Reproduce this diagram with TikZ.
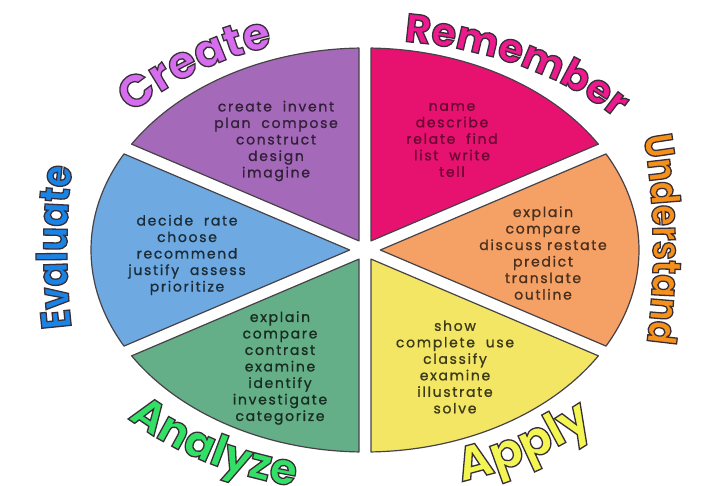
\documentclass[tikz,border=0pt]{standalone}
\usepackage{fontspec}
\setmainfont{Poppins}
\newfontfamily\lblfont{Poppins}
\newfontfamily\lblnarrow{Poppins}[FakeStretch=0.85]
\newfontfamily\bodyfont{Poppins}[LetterSpace=12, FakeBold=1]
\usetikzlibrary{decorations.text,calc}
\definecolor{cRem}{RGB}{231,18,112}
\definecolor{cUnd}{RGB}{245,160,100}
\definecolor{cApp}{RGB}{243,230,100}
\definecolor{cAna}{RGB}{100,175,135}
\definecolor{cEva}{RGB}{110,170,225}
\definecolor{cCre}{RGB}{165,105,185}
\definecolor{edge}{RGB}{70,66,72}
\definecolor{lCre}{RGB}{214,108,238}
\definecolor{lRem}{RGB}{236,26,140}
\definecolor{lUnd}{RGB}{245,144,26}
\definecolor{lApp}{RGB}{242,245,82}
\definecolor{lAna}{RGB}{51,224,102}
\definecolor{lEva}{RGB}{26,132,230}
\newcommand\outl{\special{pdf:literal direct 0.22 0.18 0.22 RG 1.3 w 2 Tr}}
\newcommand\notr{\special{pdf:literal direct 0 Tr}}
\newcommand\fCre{\lblfont\bfseries\fontsize{45}{45}\selectfont\color{lCre}\outl}
\newcommand\fRem{\lblfont\bfseries\fontsize{40}{40}\selectfont\color{lRem}\outl}
\newcommand\fUnd{\lblnarrow\bfseries\fontsize{40}{40}\selectfont\color{lUnd}\outl}
\newcommand\fEva{\lblnarrow\bfseries\fontsize{42}{42}\selectfont\color{lEva}\outl}
\newcommand\fApp{\lblfont\bfseries\fontsize{48}{48}\selectfont\color{lApp}\outl}
\newcommand\fAna{\lblfont\bfseries\fontsize{44}{44}\selectfont\color{lAna}\outl}
\begin{document}
\begin{tikzpicture}[x=1pt,y=1pt,
  sector/.style={fill=#1, draw=edge, line width=1.2pt, line join=round},
  body/.style={font=\notr\bodyfont\fontsize{14}{16.5}\selectfont, align=center, inner sep=0pt}]
\useasboundingbox (0,0) rectangle (706,485);
\fill[white] (0,0) rectangle (706,485);
\coordinate (C) at (365,235);
% sectors
\path[sector=cRem] ($(C)+(6,9.07)$) -- ($(C)+({274*cos(31.6)},{202*sin(31.6)})$)
  arc[start angle=31.6, end angle=88.745, x radius=274pt, y radius=202pt] -- cycle;
\path[sector=cCre] ($(C)+(-6,9.07)$) -- ($(C)+({274*cos(91.255)},{202*sin(91.255)})$)
  arc[start angle=91.255, end angle=148.4, x radius=274pt, y radius=202pt] -- cycle;
\path[sector=cEva] ($(C)+(-15.32,0)$) -- ($(C)+({274*cos(151.6)},{202*sin(151.6)})$)
  arc[start angle=151.6, end angle=208.4, x radius=274pt, y radius=202pt] -- cycle;
\path[sector=cAna] ($(C)+(-6,-9.07)$) -- ($(C)+({274*cos(211.6)},{202*sin(211.6)})$)
  arc[start angle=211.6, end angle=268.745, x radius=274pt, y radius=202pt] -- cycle;
\path[sector=cApp] ($(C)+(6,-9.07)$) -- ($(C)+({274*cos(271.255)},{202*sin(271.255)})$)
  arc[start angle=271.255, end angle=328.4, x radius=274pt, y radius=202pt] -- cycle;
\path[sector=cUnd] ($(C)+(15.32,0)$) -- ($(C)+({274*cos(-28.4)},{202*sin(-28.4)})$)
  arc[start angle=-28.4, end angle=28.4, x radius=274pt, y radius=202pt] -- cycle;
% body texts
\node[body, text=cCre!30!black] (tCre) at (276,344) {create\ \ invent\\plan\ \ compose\\construct\\design\\imagine};
\node[body, text=cRem!45!black] (tRem) at (452,345) {name\\describe\\relate\ \ find\\list\ \ write\\tell};
\node[body, text=cUnd!30!black] (tUnd) at (543,232) {explain\\compare\\discuss\ restate\\predict\\translate\\outline};
\node[body, text=cEva!25!black] (tEva) at (187,230) {decide\ \ rate\\choose\\recommend\\justify\ \ assess\\prioritize};
\node[body, text=cAna!25!black] (tAna) at (280,117) {explain\\compare\\contrast\\examine\\identify\\investigate\\categorize};
\node[body, text=cApp!25!black] (tApp) at (455,118) {show\\complete\ \ use\\classify\\examine\\illustrate\\solve};
% labels
\path[decorate, decoration={text along path, text align=center, text={|\fCre|Create}}]
  ($(C)+({302*cos(167)},{214*sin(167)})$) arc[start angle=167, end angle=87, x radius=302pt, y radius=214pt];
\path[decorate, decoration={text along path, text align=center, text={|\fRem|Remember}}]
  ($(C)+({322*cos(100)},{210*sin(100)})$) arc[start angle=100, end angle=16, x radius=322pt, y radius=210pt];
\path[decorate, decoration={text along path, text align=center, text={|\fUnd|Understand}}]
  ($(C)+({288*cos(31.5)},{450*sin(31.5)})$) arc[start angle=31.5, end angle=-28.5, x radius=288pt, y radius=450pt];
\path[decorate, decoration={text along path, text align=center, text={|\fEva|Evaluate}}]
  ($(C)+({298*cos(209.6)},{450*sin(209.6)})$) arc[start angle=209.6, end angle=149.6, x radius=298pt, y radius=450pt];
\path[decorate, decoration={text along path, text align=center, text={|\fApp|Apply}}]
  ($(C)+({331*cos(-97)},{242*sin(-97)})$) arc[start angle=-97, end angle=-17, x radius=331pt, y radius=242pt];
\path[decorate, decoration={text along path, text align=center, text={|\fAna|Analyze}}]
  ($(C)+({330*cos(198.5)},{242*sin(198.5)})$) arc[start angle=198.5, end angle=278.5, x radius=330pt, y radius=242pt];
\end{tikzpicture}
\end{document}
